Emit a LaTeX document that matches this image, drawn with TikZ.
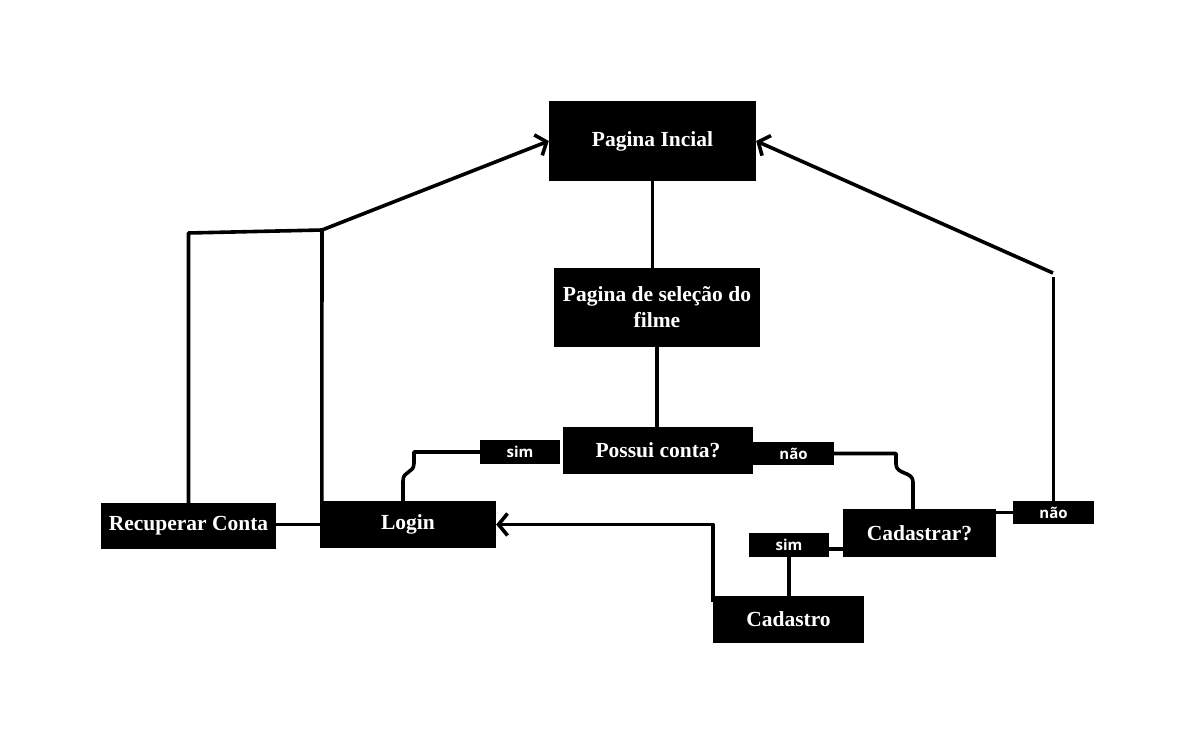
\documentclass[tikz,border=0pt]{standalone}
\usepackage{fontspec}
\setmainfont{Liberation Serif}
\newfontfamily\tagfont{Open Sans}
\usetikzlibrary{arrows.meta,calc}
\tikzset{
  block/.style={fill=black,text=white,inner sep=0pt,align=center,
    font=\fontsize{21.5}{26}\selectfont\bfseries},
  tag/.style={fill=black,text=white,inner sep=0pt,minimum width=80,minimum height=24,
    font=\tagfont\fontsize{15}{17}\selectfont\bfseries},
  link/.style={line width=3.6pt,line join=round},
  arr/.style={link,-{Straight Barb[length=9pt,width=22pt]}}
}
\begin{document}
\begin{tikzpicture}[x=1pt,y=-1pt]
\useasboundingbox[fill=white] (0,0) rectangle (1195,745);

% boxes
\node[block,minimum width=207,minimum height=80] (pi) at (652.5,141) {Pagina Incial};
\node[block,minimum width=206,minimum height=79] (sel) at (657,307.5) {Pagina de seleção do\\filme};
\node[block,minimum width=190,minimum height=47] (pc) at (658,450.5) {Possui conta?};
\node[block,minimum width=176,minimum height=47] (login) at (408,524.5) {Login};
\node[block,minimum width=175,minimum height=46] (rec) at (188.5,526) {Recuperar Conta};
\node[block,minimum width=153,minimum height=48] (cad) at (919.5,533) {Cadastrar?};
\node[block,minimum width=151,minimum height=47] (cadastro) at (788.5,619.5) {Cadastro};

% answer tags
\node[tag] (simA) at (520,452) {sim};
\node[tag,minimum width=81,minimum height=23] (naoA) at (793.5,453.5) {não};
\node[tag,minimum width=81,minimum height=23] (naoB) at (1053.5,512.5) {não};
\node[tag] (simB) at (789,545) {sim};

% bend points
\coordinate (sa1) at (414,463);
\coordinate (sa2) at (403,481);
\coordinate (na1) at (896,464);
\coordinate (na2) at (913,482);
\coordinate (nb) at (1054,277);
\coordinate (nbt) at (1053,273);
\coordinate (j) at (322,230);
\coordinate (r1) at (189,233);
\coordinate (sb) at ($(simB.east)+(0,4)$);
\coordinate (cl) at ($(cadastro.north west)+(0,6)$);

% connectors
\draw[link] (pi.south) -- (pi.south |- sel.north);
\draw[link] (sel.south) -- (sel.south |- pc.north);
\draw[link] (simA.west) -| (sa1) .. controls +(0,11) and +(0,-11) .. (sa2) -- (sa2 |- login.north);
\draw[link] (naoA.east) -| (na1) .. controls +(0,11) and +(0,-11) .. (na2) -- (na2 |- cad.north);
\draw[link] (sb) -- (sb -| cad.west);
\draw[link] (simB.south) -- (simB.south |- cadastro.north);
\draw[link] (naoB.west) -- (naoB.west -| cad.east);
\draw[link] (naoB.north) -- (naoB.north |- nb);
\draw[arr] (nbt) -- (pi.east);
\draw[arr] (cl) |- (login.east);
\draw[link] (login.west) -- (login.west -| rec.east);
\draw[link] ($(login.north west)+(2,0)$) -- (j);
\draw[arr] (rec.north) -- (rec.north |- r1) -- (j) -- (pi.west);
\end{tikzpicture}
\end{document}
